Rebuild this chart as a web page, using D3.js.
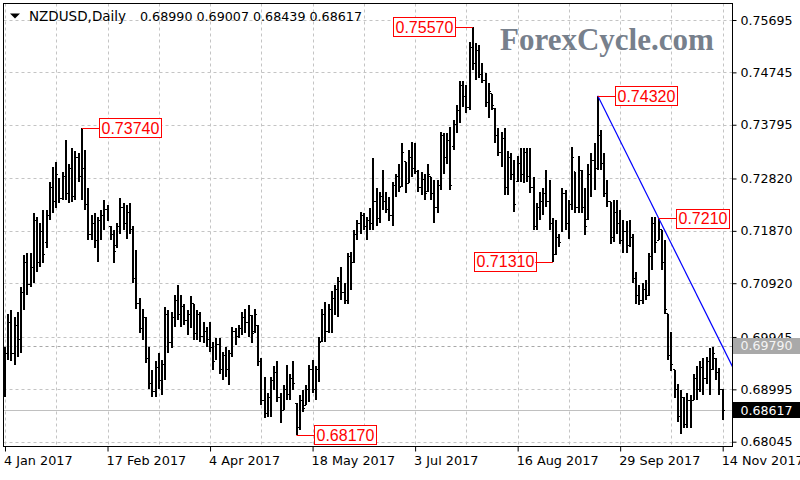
<!DOCTYPE html>
<html><head><meta charset="utf-8">
<script src="https://cdn.jsdelivr.net/npm/d3@7"></script>
<style>body{margin:0;background:#fff}svg{display:block}</style>
</head><body><svg id="c" width="800" height="480"></svg>
<script>
// ---- data (NZDUSD daily, 4 Jan 2017 .. 14 Nov 2017, one value per trading day) ----
const highs=[0.6977,0.7037,0.7043,0.7031,0.7040,0.7086,0.7143,0.7146,0.7146,0.7219,
0.7213,0.7201,0.7225,0.7225,0.7276,0.7303,0.7312,0.7282,0.7294,0.7352,
0.7309,0.7337,0.7331,0.7328,0.7374,0.7334,0.7264,0.7216,0.7219,0.7213,
0.7225,0.7243,0.7234,0.7195,0.7189,0.7201,0.7246,0.7237,0.7234,0.7237,
0.7195,0.7152,0.7065,0.7046,0.7031,0.6977,0.6935,0.6950,0.6965,0.6953,
0.7049,0.7043,0.7040,0.7071,0.7089,0.7071,0.7055,0.7043,0.7068,0.7055,
0.7043,0.7040,0.7022,0.7013,0.7022,0.6986,0.6992,0.6992,0.6968,0.6977,
0.6971,0.7013,0.7010,0.7016,0.7040,0.7046,0.7052,0.7034,0.7046,0.7016,
0.6956,0.6922,0.6892,0.6922,0.6941,0.6950,0.6892,0.6907,0.6944,0.6928,
0.6950,0.6874,0.6889,0.6898,0.6907,0.6944,0.6953,0.6941,0.6995,0.7046,
0.7058,0.7055,0.7077,0.7089,0.7104,0.7122,0.7092,0.7146,0.7149,0.7189,
0.7207,0.7222,0.7219,0.7213,0.7228,0.7319,0.7264,0.7258,0.7297,0.7258,
0.7249,0.7276,0.7291,0.7309,0.7346,0.7312,0.7334,0.7349,0.7346,0.7297,
0.7294,0.7291,0.7309,0.7285,0.7279,0.7279,0.7367,0.7364,0.7364,0.7376,
0.7388,0.7415,0.7458,0.7458,0.7452,0.7530,0.7557,0.7527,0.7524,0.7491,
0.7473,0.7455,0.7436,0.7409,0.7373,0.7367,0.7373,0.7331,0.7328,0.7315,
0.7322,0.7337,0.7337,0.7337,0.7337,0.7285,0.7237,0.7258,0.7264,0.7297,
0.7279,0.7210,0.7207,0.7182,0.7264,0.7261,0.7243,0.7340,0.7294,0.7322,
0.7297,0.7264,0.7309,0.7328,0.7346,0.7432,0.7370,0.7328,0.7279,0.7240,
0.7243,0.7243,0.7225,0.7207,0.7204,0.7207,0.7182,0.7113,0.7089,0.7092,
0.7098,0.7146,0.7213,0.7213,0.7210,0.7189,0.7170,0.7037,0.7004,0.6935,
0.6910,0.6898,0.6886,0.6892,0.6889,0.6928,0.6941,0.6950,0.6956,0.6959,
0.6974,0.6977,0.6956,0.6938,0.69007];
const lows=[0.6886,0.6953,0.6950,0.6944,0.6959,0.6965,0.7043,0.7071,0.7086,0.7092,
0.7113,0.7122,0.7128,0.7155,0.7207,0.7219,0.7228,0.7237,0.7243,0.7243,
0.7237,0.7240,0.7243,0.7276,0.7243,0.7225,0.7170,0.7170,0.7155,0.7131,
0.7170,0.7189,0.7204,0.7170,0.7128,0.7155,0.7182,0.7189,0.7173,0.7182,
0.7092,0.7046,0.7001,0.6989,0.6947,0.6901,0.6886,0.6886,0.6901,0.6889,
0.6916,0.6965,0.6974,0.7013,0.7025,0.7013,0.7016,0.6998,0.7010,0.6989,
0.6989,0.6986,0.6983,0.6977,0.6968,0.6935,0.6953,0.6928,0.6916,0.6922,
0.6907,0.6959,0.6980,0.6992,0.6998,0.7001,0.6995,0.6983,0.7001,0.6941,
0.6871,0.6847,0.6850,0.6850,0.6898,0.6877,0.6838,0.6862,0.6880,0.6880,
0.6898,0.6817,0.6826,0.6859,0.6871,0.6877,0.6892,0.6880,0.6913,0.6986,
0.6986,0.7001,0.7001,0.7034,0.7031,0.7062,0.7055,0.7055,0.7080,0.7128,
0.7170,0.7182,0.7189,0.7170,0.7189,0.7189,0.7195,0.7201,0.7225,0.7219,
0.7204,0.7195,0.7249,0.7258,0.7267,0.7255,0.7273,0.7285,0.7291,0.7258,
0.7252,0.7243,0.7258,0.7243,0.7201,0.7219,0.7261,0.7291,0.7309,0.7261,
0.7334,0.7364,0.7382,0.7412,0.7400,0.7406,0.7479,0.7461,0.7464,0.7455,
0.7412,0.7391,0.7406,0.7346,0.7322,0.7303,0.7252,0.7252,0.7279,0.7222,
0.7276,0.7276,0.7273,0.7276,0.7255,0.7189,0.7189,0.7207,0.7216,0.7231,
0.7189,0.7131,0.7143,0.7158,0.7185,0.7189,0.7173,0.7225,0.7219,0.7219,
0.7219,0.7179,0.7207,0.7249,0.7261,0.7297,0.7297,0.7249,0.7231,0.7164,
0.7167,0.7182,0.7164,0.7146,0.7146,0.7158,0.7092,0.7055,0.7052,0.7055,
0.7062,0.7068,0.7116,0.7146,0.7170,0.7116,0.7037,0.6953,0.6932,0.6883,
0.6841,0.6819,0.6829,0.6829,0.6829,0.6880,0.6880,0.6895,0.6889,0.6910,
0.6889,0.6935,0.6916,0.6889,0.68439];
const opens=[0.6890,0.6965,0.7020,0.6965,0.7015,0.6990,0.7075,0.7130,0.7090,0.7120,
0.7205,0.7130,0.7185,0.7165,0.7215,0.7265,0.7240,0.7280,0.7245,0.7285,
0.7255,0.7300,0.7250,0.7320,0.7285,0.7300,0.7235,0.7180,0.7200,0.7170,
0.7205,0.7215,0.7225,0.7195,0.7180,0.7160,0.7195,0.7230,0.7200,0.7220,
0.7190,0.7100,0.7055,0.7010,0.7030,0.6955,0.6910,0.6895,0.6940,0.6915,
0.6945,0.7035,0.6985,0.7030,0.7060,0.7035,0.7050,0.7025,0.7035,0.7055,
0.7000,0.7035,0.6995,0.7005,0.6990,0.6975,0.6960,0.6980,0.6935,0.6960,
0.6935,0.6965,0.7005,0.6995,0.7010,0.7030,0.7020,0.7034,0.7005,0.7016,
0.6950,0.6880,0.6855,0.6885,0.6915,0.6930,0.6885,0.6862,0.6900,0.6890,
0.6920,0.6874,0.6830,0.6880,0.6871,0.6900,0.6935,0.6900,0.6935,0.6986,
0.7035,0.7005,0.7045,0.7065,0.7080,0.7095,0.7075,0.7060,0.7140,0.7130,
0.7180,0.7200,0.7215,0.7195,0.7205,0.7200,0.7240,0.7210,0.7250,0.7240,
0.7225,0.7215,0.7270,0.7285,0.7267,0.7312,0.7273,0.7320,0.7300,0.7295,
0.7265,0.7280,0.7258,0.7285,0.7255,0.7230,0.7270,0.7360,0.7320,0.7350,
0.7340,0.7380,0.7405,0.7450,0.7430,0.7410,0.7520,0.7490,0.7515,0.7470,
0.7460,0.7420,0.7436,0.7409,0.7360,0.7330,0.7355,0.7265,0.7320,0.7290,
0.7276,0.7310,0.7290,0.7330,0.7285,0.7265,0.7195,0.7230,0.7240,0.7255,
0.7240,0.7200,0.7145,0.7175,0.7185,0.7255,0.7200,0.7235,0.7294,0.7230,
0.7297,0.7230,0.7207,0.7290,0.7315,0.7300,0.7360,0.7310,0.7255,0.7240,
0.7175,0.7220,0.7200,0.7170,0.7185,0.7160,0.7175,0.7100,0.7070,0.7060,
0.7080,0.7070,0.7140,0.7200,0.7170,0.7189,0.7130,0.7037,0.6960,0.6935,
0.6900,0.6850,0.6885,0.6835,0.6880,0.6880,0.6920,0.6900,0.6940,0.6920,
0.6950,0.6935,0.6956,0.6930,0.68990];
const closes=[0.6965,0.7020,0.6965,0.7015,0.6990,0.7075,0.7130,0.7090,0.7120,0.7205,
0.7130,0.7185,0.7145,0.7215,0.7265,0.7240,0.7290,0.7245,0.7285,0.7255,
0.7300,0.7250,0.7320,0.7285,0.7300,0.7235,0.7180,0.7200,0.7170,0.7205,
0.7215,0.7225,0.7210,0.7180,0.7150,0.7195,0.7230,0.7200,0.7220,0.7190,
0.7100,0.7055,0.7010,0.7030,0.6955,0.6910,0.6895,0.6940,0.6915,0.6945,
0.7035,0.6985,0.7030,0.7060,0.7035,0.7050,0.7025,0.7035,0.7055,0.7000,
0.7035,0.6995,0.7005,0.6990,0.6975,0.6950,0.6980,0.6935,0.6960,0.6935,
0.6965,0.7005,0.6995,0.7010,0.7030,0.7020,0.7040,0.7000,0.7035,0.6950,
0.6880,0.6855,0.6885,0.6915,0.6930,0.6885,0.6845,0.6900,0.6890,0.6920,
0.6910,0.6830,0.6880,0.6865,0.6900,0.6935,0.6900,0.6935,0.6985,0.7035,
0.7005,0.7045,0.7065,0.7080,0.7095,0.7075,0.7060,0.7140,0.7130,0.7180,
0.7200,0.7215,0.7195,0.7205,0.7200,0.7240,0.7210,0.7250,0.7240,0.7225,
0.7215,0.7270,0.7285,0.7265,0.7330,0.7270,0.7320,0.7300,0.7295,0.7265,
0.7280,0.7255,0.7290,0.7255,0.7230,0.7270,0.7360,0.7320,0.7350,0.7270,
0.7380,0.7405,0.7450,0.7430,0.7410,0.7520,0.7490,0.7515,0.7470,0.7460,
0.7420,0.7440,0.7415,0.7360,0.7330,0.7355,0.7265,0.7320,0.7290,0.7235,
0.7310,0.7290,0.7330,0.7285,0.7265,0.7195,0.7230,0.7240,0.7255,0.7240,
0.7200,0.7145,0.7175,0.7165,0.7255,0.7200,0.7235,0.7320,0.7230,0.7310,
0.7230,0.7195,0.7290,0.7315,0.7290,0.7360,0.7310,0.7255,0.7240,0.7175,
0.7220,0.7200,0.7170,0.7185,0.7160,0.7175,0.7100,0.7070,0.7060,0.7080,
0.7070,0.7140,0.7200,0.7165,0.7195,0.7130,0.7045,0.6960,0.6945,0.6900,
0.6850,0.6885,0.6835,0.6880,0.6850,0.6920,0.6900,0.6940,0.6920,0.6950,
0.6935,0.6965,0.6930,0.6899,0.68617];

const xTickIndex=[0,32,64,96,128,160,192,224];
const xTickLabels=["4 Jan 2017","17 Feb 2017","4 Apr 2017","18 May 2017","3 Jul 2017","16 Aug 2017","29 Sep 2017","14 Nov 2017"];
const yTickValues=[0.75695,0.74745,0.73795,0.72820,0.71870,0.70920,0.69945,0.68995,0.68045];

const labelBars=[24,146,171,185,204,91];
const labelPrices=[0.73740,0.75570,0.71310,0.74320,0.72100,0.68170];
const labelTexts=["0.73740","0.75570","0.71310","0.74320","0.7210","0.68170"];
const labelSides=["right","left","left","right","right","right"];

const trendBars=[185,204];
const trendPrices=[0.74320,0.72100];
const levelPrice=0.69790;
const lastPrice=0.68617;
const headerSymbol="NZDUSD,Daily";
const headerValues=["0.68990","0.69007","0.68439","0.68617"];

// ---- drawing ----
const svg=d3.select("#c");
const L=3.5,R=732.5,T=3.5,B=446.5;
const x=d3.scaleLinear().domain([0,224]).range([5,722.7]);
const y=d3.scaleLinear().domain([0.68045,0.75695]).range([441.7,20]);

svg.append("defs").append("clipPath").attr("id","plot")
  .append("rect").attr("x",L).attr("y",T).attr("width",R-L).attr("height",B-T);

const grid=svg.append("g").attr("stroke","#c4c4c4").attr("stroke-dasharray","3,3").attr("stroke-width",1);
grid.selectAll("line.v").data(d3.range(0,225,16)).join("line")
  .attr("x1",d=>Math.round(x(d))+0.5).attr("x2",d=>Math.round(x(d))+0.5).attr("y1",T).attr("y2",B);
grid.selectAll("line.h").data(yTickValues).join("line")
  .attr("x1",L).attr("x2",R).attr("y1",d=>Math.round(y(d))+0.5).attr("y2",d=>Math.round(y(d))+0.5);

// horizontal level line and bid line
svg.append("line").attr("x1",L).attr("x2",R)
  .attr("y1",Math.round(y(levelPrice))+0.5).attr("y2",Math.round(y(levelPrice))+0.5)
  .attr("stroke","#a8a8a8").attr("stroke-dasharray","3,3");
svg.append("line").attr("x1",L).attr("x2",R)
  .attr("y1",Math.round(y(lastPrice))+0.5).attr("y2",Math.round(y(lastPrice))+0.5)
  .attr("stroke","#c0c0c0");

// watermark
svg.append("text").attr("x",500).attr("y",50).text("ForexCycle.com")
  .attr("font-family","'Liberation Serif',serif").attr("font-weight","bold")
  .attr("font-size",31).attr("fill","#77808c");

// bars
const plot=svg.append("g").attr("clip-path","url(#plot)");
const idx=highs.map((h,i)=>i);
const bars=plot.append("g").attr("stroke","#000").attr("fill","none").attr("shape-rendering","crispEdges");
bars.selectAll("path.hl").data(idx).join("path").attr("class","hl")
  .attr("stroke-width",2)
  .attr("d",i=>`M${x(i)},${y(highs[i])}V${y(lows[i])}`);
bars.selectAll("path.oc").data(idx).join("path").attr("class","oc")
  .attr("stroke-width",1)
  .attr("d",i=>{const cx=x(i);
    return `M${cx-1.8},${y(opens[i])}H${cx}M${cx},${y(closes[i])}H${cx+1.8}`;});

// trend line
const slope=(trendPrices[1]-trendPrices[0])/(trendBars[1]-trendBars[0]);
const endIdx=x.invert(R);
plot.append("line")
  .attr("x1",x(trendBars[0])).attr("y1",y(trendPrices[0]))
  .attr("x2",R).attr("y2",y(trendPrices[0]+slope*(endIdx-trendBars[0])))
  .attr("stroke","#0000ff").attr("stroke-width",1.2);

// price labels
labelBars.forEach((b,k)=>{
  const g=svg.append("g");
  const py=y(labelPrices[k]), bx=x(b);
  const t=g.append("text").text(labelTexts[k])
    .attr("font-family","'Liberation Sans',Arial,sans-serif").attr("font-size",16)
    .attr("fill","#ff0000").attr("dy","0.36em").attr("y",py);
  const w=t.node().getComputedTextLength()+4;
  const gap=17.5;
  let bx0, lineEnd;
  if(labelSides[k]==="right"){bx0=bx+gap; lineEnd=bx0;}
  else {bx0=bx-gap-w; lineEnd=bx0+w;}
  g.insert("rect","text").attr("x",Math.round(bx0)+0.5).attr("y",Math.round(py-9.5)+0.5)
    .attr("width",Math.round(w)).attr("height",19).attr("fill","#fff").attr("stroke","#ff0000");
  t.attr("x",Math.round(bx0)+2.5);
  g.append("line").attr("x1",bx).attr("x2",lineEnd).attr("y1",Math.round(py)+0.5).attr("y2",Math.round(py)+0.5)
    .attr("stroke","#ff0000");
});

// frame
svg.append("rect").attr("x",L).attr("y",T).attr("width",R-L).attr("height",B-T)
  .attr("fill","none").attr("stroke","#000");

// right price axis
const yAxis=d3.axisRight(y).tickValues(yTickValues).tickSize(4).tickPadding(4)
  .tickFormat(d3.format(".5f"));
const ya=svg.append("g").attr("transform",`translate(${R},0)`).call(yAxis);
ya.select(".domain").remove();
ya.selectAll("text").attr("font-family","'DejaVu Sans',sans-serif").attr("font-size",12.6).attr("fill","#000");
ya.selectAll("line").attr("stroke","#000");

// bottom time axis
const xAxis=d3.axisBottom(x).tickValues(xTickIndex).tickSize(5)
  .tickFormat((d,i)=>xTickLabels[i]);
const xa=svg.append("g").attr("transform",`translate(0,${B})`).call(xAxis);
xa.select(".domain").remove();
xa.selectAll("text").attr("font-family","'DejaVu Sans',sans-serif").attr("font-size",12.8)
  .attr("fill","#000").attr("text-anchor","start").attr("x",-1.5).attr("y",9);
xa.selectAll("line").attr("stroke","#000");

// axis price boxes
function priceBox(p,bg,fg){
  const cy=y(p);
  svg.append("rect").attr("x",R+0.5).attr("y",Math.round(cy-8)).attr("width",800-R).attr("height",16).attr("fill",bg);
  svg.append("text").attr("x",R+8).attr("y",cy).attr("dy","0.36em").text(d3.format(".5f")(p))
    .attr("font-family","'DejaVu Sans',sans-serif").attr("font-size",12.6).attr("fill",fg);
}
priceBox(levelPrice,"#a9a9a9","#f4f4f4");
priceBox(lastPrice,"#000","#fff");

// header
svg.append("path").attr("d","M10,13.5L20,13.5L15,18.5Z").attr("fill","#000");
svg.append("text").attr("x",29).attr("y",21).text(headerSymbol)
  .attr("font-family","'DejaVu Sans',sans-serif").attr("font-size",13.5).attr("fill","#000");
svg.append("text").attr("x",140).attr("y",21).text(headerValues.join(" "))
  .attr("font-family","'DejaVu Sans',sans-serif").attr("font-size",12.7).attr("fill","#000");
</script></body></html>
